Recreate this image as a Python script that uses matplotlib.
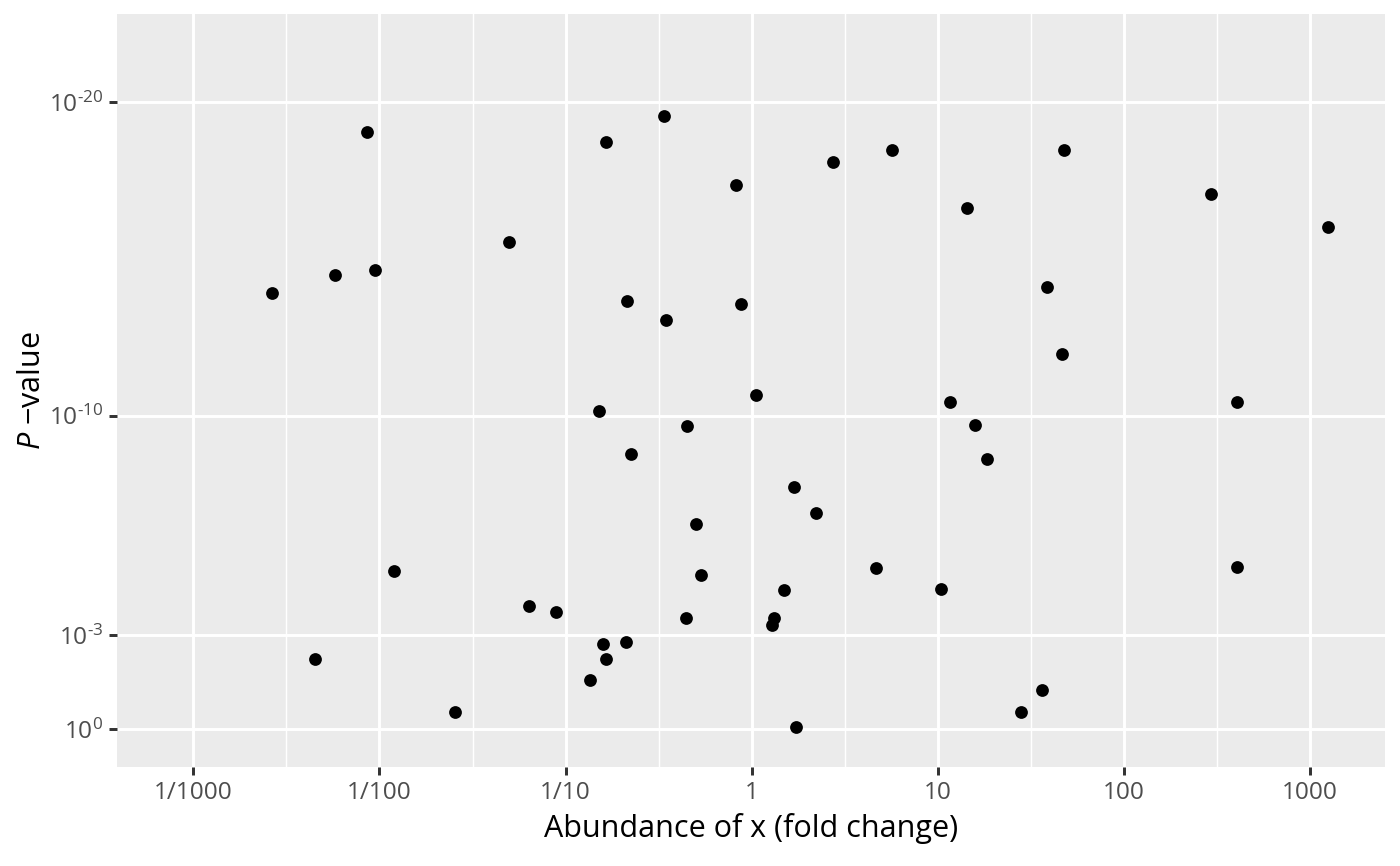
import numpy as np
import matplotlib
matplotlib.use('Agg')
import matplotlib.pyplot as plt
from matplotlib.ticker import FixedLocator, FixedFormatter, NullLocator

plt.rcParams['font.family'] = ['Open Sans', 'DejaVu Sans']
plt.rcParams['mathtext.fontset'] = 'custom'
plt.rcParams['mathtext.rm'] = 'Open Sans'
plt.rcParams['mathtext.it'] = 'Open Sans:italic'

fold_change = [0.00266, 0.00448, 0.00580, 0.00861, 0.00951, 0.0120, 0.0253, 0.0494,
               0.0632, 0.0883, 0.135, 0.152, 0.158, 0.164, 0.164, 0.210, 0.213, 0.224,
               0.336, 0.345, 0.442, 0.447, 0.500, 0.532, 0.820, 0.873, 1.06, 1.28,
               1.31, 1.49, 1.68, 1.72, 2.21, 2.73, 4.64, 5.66, 10.4, 11.6, 14.3, 15.8,
               18.3, 27.9, 36.2, 38.5, 46.4, 47.6, 294, 405, 405, 1250]
p_value = [1.26e-14, 5.75e-3, 3.39e-15, 9.12e-20, 2.19e-15, 8.91e-6, 0.288, 2.95e-16,
           1.17e-4, 1.82e-4, 2.69e-2, 6.92e-11, 1.91e-3, 1.91e-19, 5.75e-3, 1.66e-3,
           2.29e-14, 1.62e-9, 2.82e-20, 9.12e-14, 2.82e-4, 2.09e-10, 2.82e-7, 1.20e-5,
           4.47e-18, 2.82e-14, 2.14e-11, 4.79e-4, 2.82e-4, 3.63e-5, 1.86e-8, 0.871,
           1.26e-7, 8.32e-19, 7.24e-6, 3.39e-19, 3.39e-5, 3.80e-11, 2.45e-17, 1.95e-10,
           2.34e-9, 0.288, 5.62e-2, 8.13e-15, 1.12e-12, 3.39e-19, 8.71e-18, 3.80e-11,
           6.61e-6, 9.77e-17]

x_breaks = [0.001, 0.01, 0.1, 1, 10, 100, 1000]
x_labels = ['1/1000', '1/100', '1/10', '1', '10', '100', '1000']
y_breaks = [1, 1e-3, 1e-10, 1e-20]
y_labels = [r'$10^{0}$', r'$10^{\text{-}3}$', r'$10^{\text{-}10}$', r'$10^{\text{-}20}$']

fig = plt.figure(figsize=(7, 4.33), dpi=200)
ax = fig.add_axes([0.0836, 0.1143, 0.9054, 0.8695])
ax.set_facecolor('#EBEBEB')

y = -np.log10(p_value)
ax.plot(fold_change, y, 'o', color='black', markersize=4.6, markeredgewidth=0, zorder=3)

ax.set_xscale('log')
ax.set_xlim(10 ** -3.41, 10 ** 3.40)
ax.set_ylim(-1.21, 22.81)

ax.xaxis.set_major_locator(FixedLocator(x_breaks))
ax.xaxis.set_major_formatter(FixedFormatter(x_labels))
ax.xaxis.set_minor_locator(FixedLocator([10 ** (k + 0.5) for k in range(-4, 4)]))
ax.set_yticks([-np.log10(b) for b in y_breaks])
ax.set_yticklabels(y_labels)
ax.yaxis.set_minor_locator(NullLocator())

ax.grid(True, which='major', color='white', linewidth=1.07)
ax.grid(True, which='minor', axis='x', color='white', linewidth=0.53)
ax.set_axisbelow(True)
for s in ax.spines.values():
    s.set_visible(False)

ax.tick_params(which='major', length=2.75, width=1.07, color='#333333',
               labelcolor='#4D4D4D', labelsize=8.8, pad=2.2)
ax.tick_params(which='minor', length=0)

ax.set_xlabel('Abundance of x (fold change)', fontsize=11, color='black', labelpad=3)
ax.set_ylabel(r'$P$ −value', fontsize=11, color='black')
ax.yaxis.set_label_coords(-0.055, 0.5)

fig.savefig('out.png', dpi=200)
